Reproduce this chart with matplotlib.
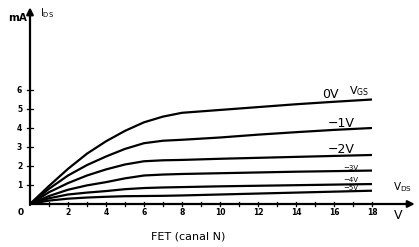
import matplotlib
matplotlib.use("Agg")
from matplotlib import pyplot as plt
import numpy as np

# drain voltage (V) and drain current (mA) for each gate voltage
vds = [0, 1, 2, 3, 4, 5, 6, 7, 8, 10, 12, 14, 16, 18]
id_0v = [0, 0.95, 1.85, 2.65, 3.3, 3.85, 4.3, 4.6, 4.8, 4.95, 5.1, 5.25, 5.38, 5.5]
id_m1v = [0, 0.8, 1.5, 2.05, 2.5, 2.9, 3.2, 3.33, 3.38, 3.5, 3.65, 3.78, 3.9, 4.0]
id_m2v = [0, 0.62, 1.1, 1.5, 1.82, 2.08, 2.25, 2.3, 2.32, 2.38, 2.43, 2.48, 2.53, 2.58]
id_m3v = [0, 0.42, 0.75, 0.98, 1.15, 1.35, 1.5, 1.55, 1.58, 1.62, 1.66, 1.7, 1.73, 1.76]
id_m4v = [0, 0.3, 0.5, 0.6, 0.68, 0.78, 0.84, 0.87, 0.89, 0.93, 0.96, 0.99, 1.02, 1.05]
id_m5v = [0, 0.18, 0.28, 0.34, 0.38, 0.41, 0.42, 0.43, 0.45, 0.5, 0.55, 0.6, 0.65, 0.7]
curves = [id_0v, id_m1v, id_m2v, id_m3v, id_m4v, id_m5v]
curve_labels = ['0V', '\u22121V', '\u22122V', '\u22123V', '\u22124V', '\u22125V']
x_ticks = [2, 4, 6, 8, 10, 12, 14, 16, 18]
y_ticks = [1, 2, 3, 4, 5, 6]

W, H = 419, 247
fig = plt.figure(figsize=(W / 100, H / 100), dpi=100)
px = 19.0  # pixels per unit
x0, y0 = 30, 204
ax = fig.add_axes([x0 / W, (H - y0) / H, 20.5 * px / W, 10.5 * px / H])
ax.set_xlim(0, 20.5)
ax.set_ylim(0, 10.5)
for s in ax.spines.values():
    s.set_visible(False)
ax.set_xticks([])
ax.set_yticks([])

# axes with arrows
ax.annotate('', xy=(20.4, 0), xytext=(-0.1, 0),
            arrowprops=dict(arrowstyle='-|>', lw=1.6, color='k', mutation_scale=10),
            annotation_clip=False)
ax.annotate('', xy=(0, 10.5), xytext=(0, -0.2),
            arrowprops=dict(arrowstyle='-|>', lw=1.6, color='k', mutation_scale=10),
            annotation_clip=False)

# tick marks crossing the axes
for v in range(1, 19):
    ax.plot([v, v], [-0.12, 0.12], color='k', lw=0.9, clip_on=False)
for v in y_ticks:
    ax.plot([-0.15, 0.15], [v, v], color='k', lw=0.9, clip_on=False)
for v in x_ticks:
    ax.text(v, -0.45, str(v), ha='center', va='center', fontsize=5.5,
            fontweight='bold')
for v in y_ticks:
    ax.text(-0.55, v, str(v), ha='center', va='center', fontsize=5.5,
            fontweight='bold')
ax.text(-0.5, -0.45, '0', ha='center', va='center', fontsize=6.5, fontweight='bold')

for ys in curves:
    ax.plot(vds, ys, color='k', lw=1.6, solid_capstyle='butt')

# labels on the curves
lab_pos = [(15.8, 5.75, 9), (16.4, 4.25, 9), (16.4, 2.85, 9),
           (16.9, 1.9, 5), (16.9, 1.27, 5), (16.9, 0.85, 5)]
for (lx, ly, fs), t in zip(lab_pos, curve_labels):
    ax.text(lx, ly, t, ha='center', va='center', fontsize=fs)
ax.text(17.3, 5.95, r'V$_{\rm GS}$', ha='center', va='center', fontsize=8)

ax.text(-0.15, 9.8, 'mA', ha='right', va='center', fontsize=7.5, fontweight='bold')
ax.text(0.55, 10.05, r'I$_{\rm DS}$', ha='left', va='center', fontsize=7)
ax.text(19.1, 0.9, r'V$_{\rm DS}$', ha='left', va='center', fontsize=7.5)
ax.text(19.4, -0.6, 'V', ha='center', va='center', fontsize=9)
ax.text(8.3, -1.7, 'FET (canal N)', ha='center', va='center', fontsize=8)

fig.savefig('out.png', dpi=100)
